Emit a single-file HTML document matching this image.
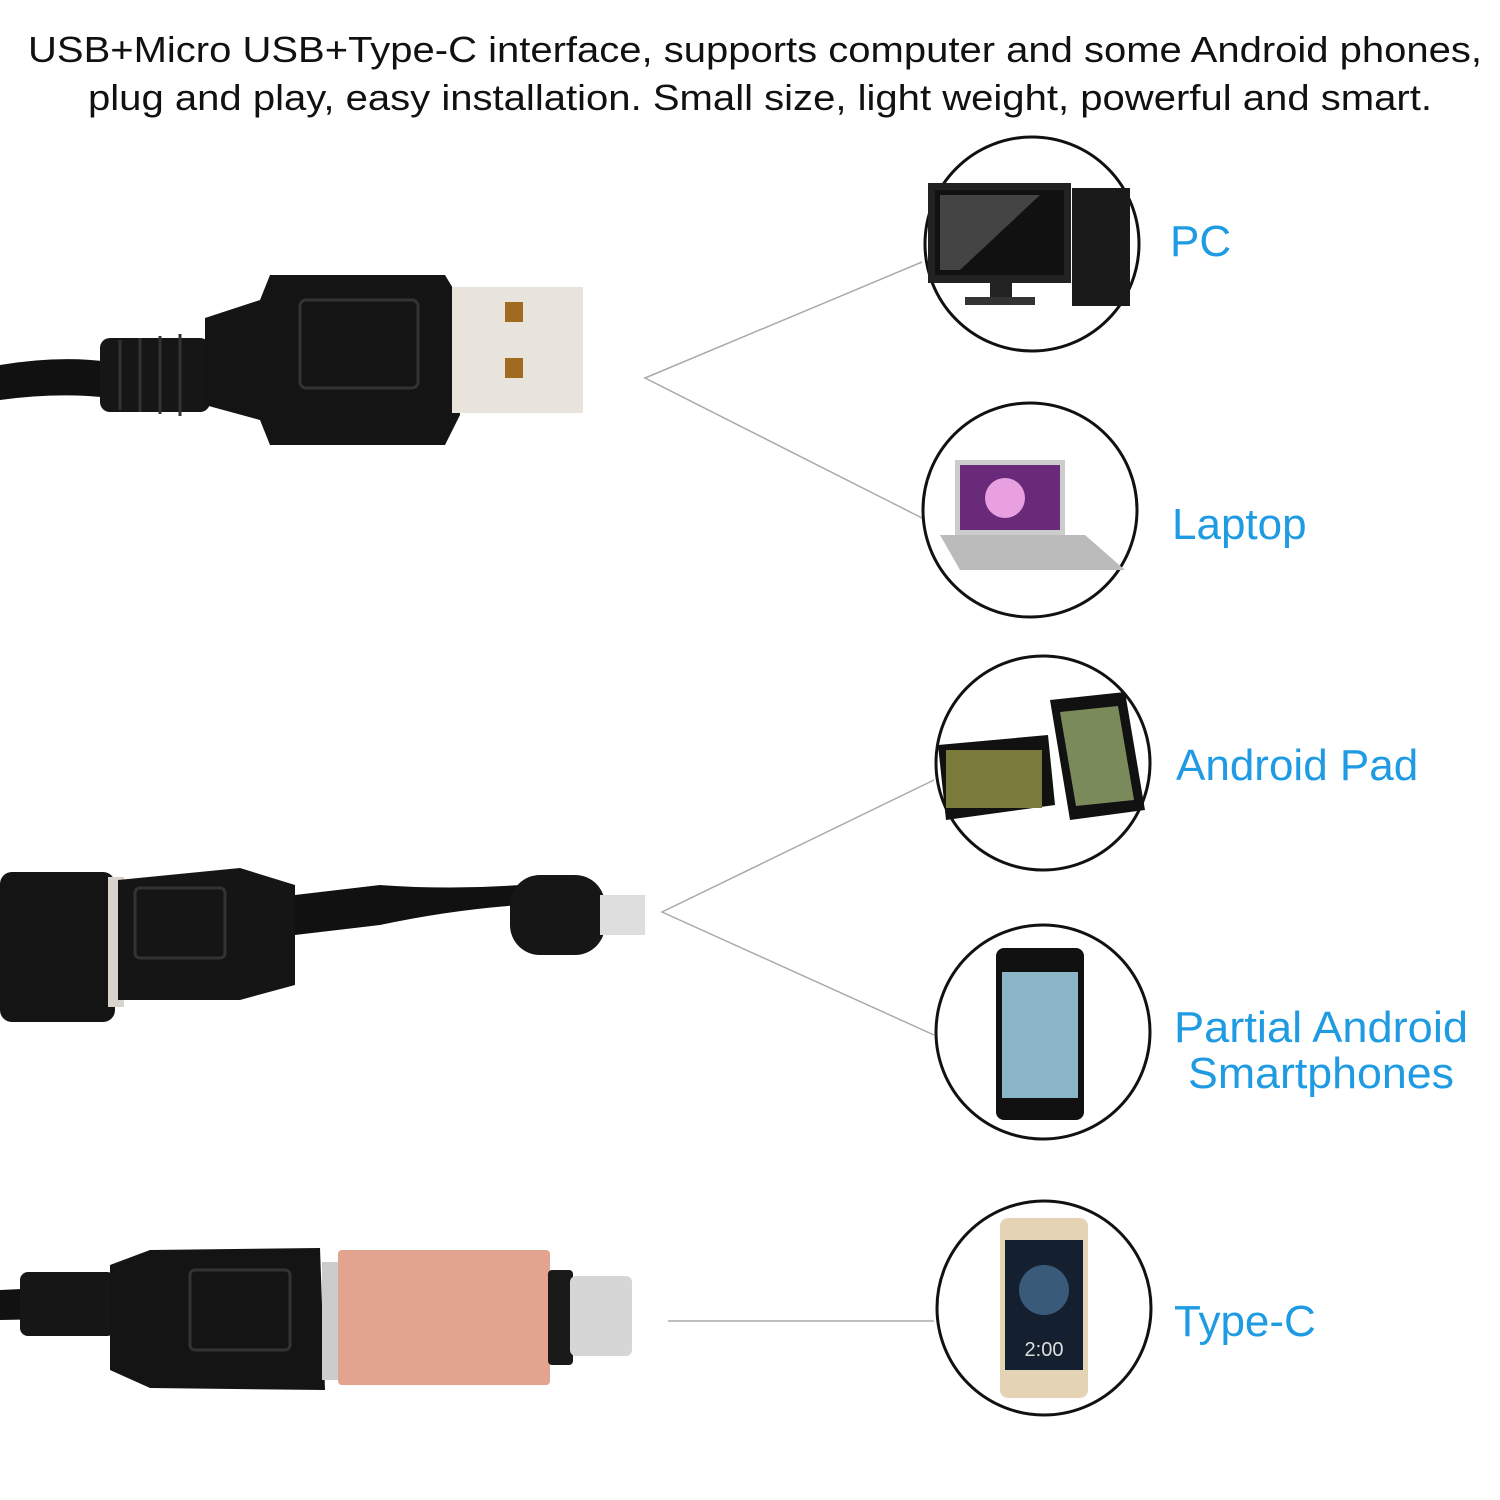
<!DOCTYPE html>
<html><head><meta charset="utf-8"><style>
html,body{margin:0;padding:0;background:#fff;width:1500px;height:1500px;overflow:hidden}
svg{display:block}
</style></head><body>
<svg width="1500" height="1500" viewBox="0 0 1500 1500" xmlns="http://www.w3.org/2000/svg">
<g font-family="Liberation Sans, sans-serif" font-size="36" fill="#111">
<text x="28" y="62" textLength="1454" lengthAdjust="spacingAndGlyphs">USB+Micro USB+Type-C interface, supports computer and some Android phones,</text>
<text x="88" y="110" textLength="1344" lengthAdjust="spacingAndGlyphs">plug and play, easy installation. Small size, light weight, powerful and smart.</text>
</g>
<g stroke="#aaa" stroke-width="1.5" fill="none">
<polyline points="922,262 645,378 922,518"/>
<polyline points="934,780 662,912 934,1035"/>
<line x1="668" y1="1321" x2="934" y2="1321"/>
</g>
<g fill="#fff" stroke="#111" stroke-width="3">
<circle cx="1032" cy="244" r="107"/>
<circle cx="1030" cy="510" r="107"/>
<circle cx="1043" cy="763" r="107"/>
<circle cx="1043" cy="1032" r="107"/>
<circle cx="1044" cy="1308" r="107"/>
</g>
<rect x="928" y="183" width="143" height="100" fill="#222"/>
<rect x="935" y="190" width="129" height="85" fill="#111"/>
<polygon points="940,195 1040,195 960,270 940,270" fill="#444"/>
<rect x="990" y="283" width="22" height="15" fill="#222"/><rect x="965" y="297" width="70" height="8" fill="#333"/>
<rect x="1072" y="188" width="58" height="118" fill="#1a1a1a"/>
<rect x="955" y="460" width="110" height="75" fill="#ccc"/>
<rect x="960" y="465" width="100" height="65" fill="#6a2a7a"/>
<circle cx="1005" cy="498" r="20" fill="#e8a0e0"/>
<polygon points="940,535 1085,535 1125,570 960,570" fill="#bbb"/>
<polygon points="938,745 1048,735 1055,805 946,820" fill="#111"/>
<rect x="946" y="750" width="96" height="58" fill="#7a7a3a"/>
<polygon points="1050,700 1125,692 1145,810 1070,820" fill="#111"/>
<polygon points="1060,712 1118,706 1134,800 1076,806" fill="#7b8a5a"/>
<rect x="996" y="948" width="88" height="172" rx="8" fill="#111"/>
<rect x="1002" y="972" width="76" height="126" fill="#8ab6c8"/>
<rect x="1000" y="1218" width="88" height="180" rx="8" fill="#e4d3b5"/>
<rect x="1005" y="1240" width="78" height="130" fill="#142030"/>
<circle cx="1044" cy="1290" r="25" fill="#3a5a7a"/>
<text x="1044" y="1356" font-family="Liberation Sans, sans-serif" font-size="20" fill="#ddd" text-anchor="middle">2:00</text>
<g font-family="Liberation Sans, sans-serif" font-size="44" fill="#1e9be2">
<text x="1170" y="256">PC</text>
<text x="1172" y="539">Laptop</text>
<text x="1176" y="780">Android Pad</text>
<text x="1174" y="1042" textLength="294" lengthAdjust="spacingAndGlyphs">Partial Android</text>
<text x="1188" y="1088" textLength="266" lengthAdjust="spacingAndGlyphs">Smartphones</text>
<text x="1174" y="1336">Type-C</text>
</g>
<path d="M0,365 Q60,355 110,362 L110,398 Q60,392 0,400 Z" fill="#111"/>
<rect x="100" y="338" width="110" height="74" rx="10" fill="#161616"/>
<g stroke="#333" stroke-width="3"><line x1="120" y1="340" x2="120" y2="410"/><line x1="140" y1="338" x2="140" y2="412"/><line x1="160" y1="336" x2="160" y2="414"/><line x1="180" y1="334" x2="180" y2="416"/></g>
<path d="M205,318 L260,300 L270,275 L445,275 L460,300 L460,415 L445,445 L270,445 L260,420 L205,405 Z" fill="#141414"/>
<rect x="300" y="300" width="118" height="88" rx="6" fill="none" stroke="#333" stroke-width="3"/>
<rect x="452" y="287" width="131" height="126" fill="#e8e4dc"/>
<rect x="505" y="302" width="18" height="20" fill="#a06a20"/><rect x="505" y="358" width="18" height="20" fill="#a06a20"/>
<rect x="0" y="872" width="115" height="150" rx="12" fill="#141414"/>
<rect x="108" y="877" width="16" height="130" fill="#d8d4cc"/>
<path d="M118,880 L240,868 L295,885 L295,985 L240,1000 L118,1000 Z" fill="#151515"/>
<rect x="135" y="888" width="90" height="70" rx="5" fill="none" stroke="#333" stroke-width="3"/>
<path d="M295,895 L380,885 Q450,890 520,885 L520,905 Q450,910 380,925 L295,935 Z" fill="#111"/>
<rect x="510" y="875" width="95" height="80" rx="30" fill="#161616"/>
<rect x="600" y="895" width="45" height="40" fill="#ddd"/>
<path d="M0,1290 L110,1285 L110,1318 L0,1320 Z" fill="#111"/>
<rect x="20" y="1272" width="95" height="64" rx="8" fill="#161616"/>
<path d="M110,1265 L150,1250 L320,1248 L325,1390 L150,1388 L110,1370 Z" fill="#141414"/>
<rect x="190" y="1270" width="100" height="80" rx="5" fill="none" stroke="#333" stroke-width="3"/>
<rect x="322" y="1262" width="18" height="118" fill="#ccc"/>
<rect x="338" y="1250" width="212" height="135" rx="4" fill="#e2a48e"/>
<rect x="548" y="1270" width="25" height="95" rx="4" fill="#1a1a1a"/>
<rect x="570" y="1276" width="62" height="80" rx="6" fill="#d6d6d6"/>
</svg>
</body></html>
